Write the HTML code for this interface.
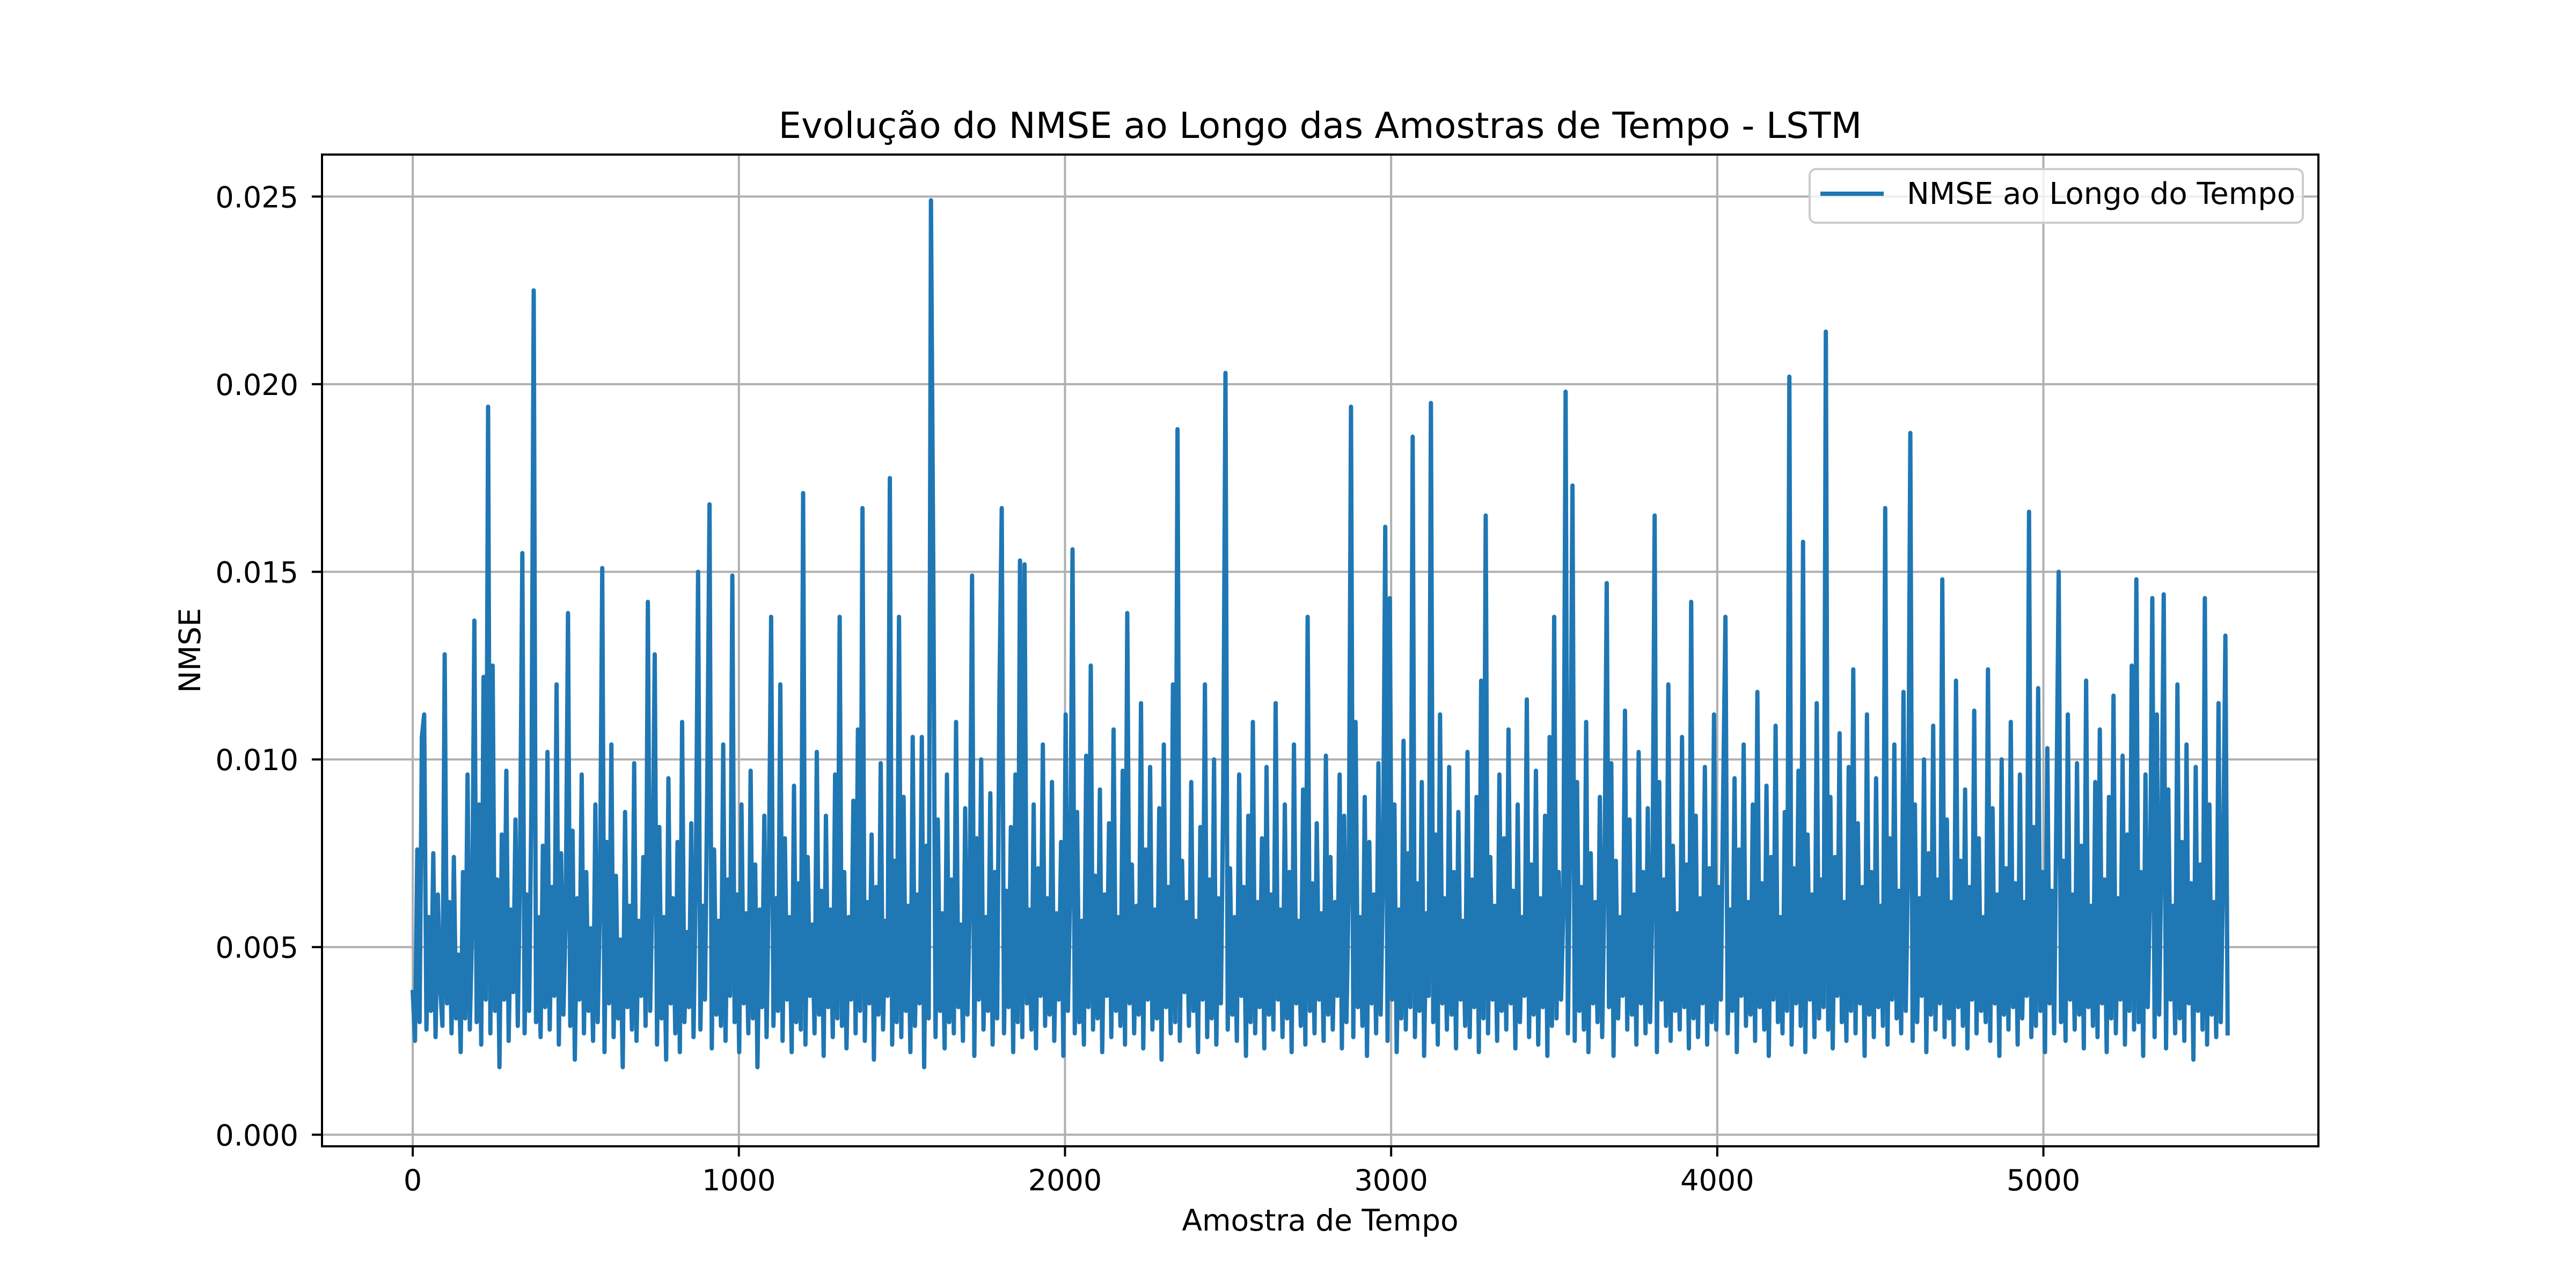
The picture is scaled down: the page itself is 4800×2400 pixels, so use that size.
<!DOCTYPE html>
<html><head><meta charset="utf-8"><style>
html,body{margin:0;padding:0;background:#fff;}
svg{display:block;font-family:"DejaVu Sans","Liberation Sans",sans-serif;}
</style></head>
<body>
<svg id="chart" width="4800" height="2400" viewBox="0 0 4800 2400" xmlns="http://www.w3.org/2000/svg">
<rect x="0" y="0" width="4800" height="2400" fill="#fff"/>
<g id="grid"></g>
<g id="series"></g>
<rect x="600" y="288" width="3720" height="1848" fill="none" stroke="#000" stroke-width="4"/>
<g id="ticks"></g>
<text x="2460" y="257" font-size="67" text-anchor="middle">Evolução do NMSE ao Longo das Amostras de Tempo - LSTM</text>
<text x="2460" y="2293" font-size="55" text-anchor="middle">Amostra de Tempo</text>
<text x="0" y="0" font-size="55" text-anchor="middle" transform="translate(373,1212) rotate(-90)">NMSE</text>
<g>
<rect x="3372" y="315" width="919" height="100" rx="12" fill="#fff" fill-opacity="0.8" stroke="#cccccc" stroke-width="4"/>
<line x1="3392" y1="361" x2="3510" y2="361" stroke="#1f77b4" stroke-width="8"/>
<text x="3553" y="380" font-size="56">NMSE ao Longo do Tempo</text>
</g>
</svg>
<script>
const xTicks = [0, 1000, 2000, 3000, 4000, 5000];
const xTickLabels = ["0", "1000", "2000", "3000", "4000", "5000"];
const yTicks = [0, 0.005, 0.010, 0.015, 0.020, 0.025];
const yTickLabels = ["0.000", "0.005", "0.010", "0.015", "0.020", "0.025"];
const sampleStep = 7;
// NMSE values in units of 1e-4
const nmse = [
38,25,76,30,106,112,28,58,33,75,26,64,40,29,128,35,62,27,74,31,
48,22,70,31,96,28,55,137,30,88,24,122,36,194,27,125,33,68,18,80,
36,97,25,60,38,84,29,72,155,27,64,33,90,225,30,58,26,77,34,102,
28,66,37,120,24,75,32,58,139,29,81,20,63,36,96,27,70,33,55,25,
88,30,62,151,22,78,35,104,26,69,31,52,18,86,34,61,28,99,25,57,
37,74,29,142,33,66,128,24,82,31,58,20,95,35,63,27,78,22,110,30,
54,34,83,26,70,150,28,61,36,92,168,23,76,32,57,29,104,25,68,37,
149,30,64,22,88,35,59,27,97,31,72,18,60,34,85,26,70,138,29,63,
33,120,25,79,36,58,22,93,30,67,28,171,24,74,37,56,27,102,32,65,
21,85,34,60,26,96,31,138,29,70,23,58,36,89,27,108,33,167,25,62,
35,80,20,66,32,99,28,57,37,175,24,73,30,138,26,90,33,61,22,106,
29,64,35,106,18,77,31,249,152,26,84,33,59,23,96,30,68,27,110,34,
56,25,87,32,62,149,21,79,36,100,28,58,33,91,24,70,31,118,167,27,
65,34,82,22,96,30,153,26,152,35,60,28,88,23,71,37,104,29,63,32,
94,25,59,36,78,21,112,33,66,156,27,86,30,57,24,101,34,125,28,69,
31,92,22,64,37,83,26,108,33,58,29,97,24,139,35,72,27,61,32,115,
23,76,36,98,28,60,31,87,20,104,34,66,27,120,30,188,25,73,38,62,
29,94,33,57,22,82,36,120,26,68,31,100,24,63,35,90,203,28,71,32,
58,25,96,37,66,21,85,30,110,27,62,34,79,23,98,32,64,28,115,36,
60,26,88,31,70,22,104,35,57,29,92,24,138,33,67,27,83,36,59,25,
101,32,74,28,62,37,96,23,85,30,66,194,26,110,34,58,29,90,21,78,
35,64,27,99,32,70,162,25,143,36,88,22,60,31,105,28,75,34,186,26,
67,33,94,21,59,37,195,30,80,24,112,35,63,28,98,32,70,23,86,36,
57,29,102,26,68,34,90,22,121,31,165,27,74,36,61,25,96,33,79,28,
108,35,65,23,88,30,58,37,116,26,72,32,97,24,63,34,85,21,106,29,
138,31,70,36,60,198,27,82,173,25,94,33,66,28,110,22,75,35,62,30,
90,26,67,147,34,99,21,73,31,58,37,113,28,84,32,64,24,102,35,70,
27,87,30,61,165,22,94,36,68,29,120,25,77,33,59,28,106,34,72,23,
142,31,85,26,63,35,98,24,71,30,112,28,66,36,90,138,27,60,33,95,
22,76,37,104,29,62,32,88,25,118,34,67,28,93,21,74,36,109,30,58,
27,86,33,202,24,71,35,97,29,158,22,80,36,64,26,115,31,68,34,214,
28,90,23,74,37,107,30,62,25,98,33,124,27,83,35,66,21,112,32,70,
26,95,34,61,29,167,24,79,36,104,31,65,27,118,33,72,187,25,88,30,
63,37,100,22,75,32,109,28,68,35,148,26,84,31,62,24,121,34,73,29,
92,23,66,36,113,27,79,33,58,30,124,25,87,35,64,21,100,32,71,28,
110,34,67,24,96,31,62,37,166,26,82,29,119,33,70,22,103,35,65,27,
88,150,30,73,25,112,36,64,28,99,32,77,23,121,34,61,29,94,26,108,
35,68,22,90,31,117,27,63,36,101,24,80,33,125,28,148,30,70,21,96,
34,66,143,26,112,32,74,144,23,92,36,61,27,120,31,78,25,104,35,67,
20,98,33,72,28,143,24,88,32,62,26,115,30,70,133,27
];
const valueUnit = 1e-4;

const NS = "http://www.w3.org/2000/svg";
const plot = {left:600, right:4320, top:288, bottom:2136};
const xMax = (nmse.length - 1) * sampleStep;
const xMinD = -0.05 * xMax, xMaxD = 1.05 * xMax;
const yMinD = -0.00031, yMaxD = 0.02612;
function sx(v){ return plot.left + (v - xMinD) / (xMaxD - xMinD) * (plot.right - plot.left); }
function sy(v){ return plot.bottom - (v - yMinD) / (yMaxD - yMinD) * (plot.bottom - plot.top); }
function mk(tag, attrs, parent){
  const el = document.createElementNS(NS, tag);
  for (const k in attrs) el.setAttribute(k, attrs[k]);
  parent.appendChild(el);
  return el;
}
const grid = document.getElementById('grid');
const ticks = document.getElementById('ticks');
xTicks.forEach((t, i) => {
  const x = sx(t);
  const g = mk('line', {x1:x, x2:x, y1:plot.top, y2:plot.bottom, stroke:'#b0b0b0', 'stroke-width':4}, grid);
  
  
  const tk = mk('line', {x1:x, x2:x, y1:plot.bottom, y2:plot.bottom + 19, stroke:'#000', 'stroke-width':4}, ticks);
  
  
  const lb = mk('text', {x:x, y:2218, 'font-size':54, 'text-anchor':'middle'}, ticks);
  lb.textContent = xTickLabels[i];
  
  
});
yTicks.forEach((t, i) => {
  const y = sy(t);
  const g = mk('line', {x1:plot.left, x2:plot.right, y1:y, y2:y, stroke:'#b0b0b0', 'stroke-width':4}, grid);
  
  
  const tk = mk('line', {x1:plot.left - 19, x2:plot.left, y1:y, y2:y, stroke:'#000', 'stroke-width':4}, ticks);
  
  
  const lb = mk('text', {x:556, y:y + 20, 'font-size':54, 'text-anchor':'end'}, ticks);
  lb.textContent = yTickLabels[i];
  
  
});
const pts = nmse.map((v, i) => sx(i * sampleStep).toFixed(1) + ',' + sy(v * valueUnit).toFixed(1)).join(' ');
const line = mk('polyline', {points:pts, fill:'none', stroke:'#1f77b4', 'stroke-width':8, 'stroke-linejoin':'round', 'stroke-linecap':'square'}, document.getElementById('series'));


</script>
</body></html>
